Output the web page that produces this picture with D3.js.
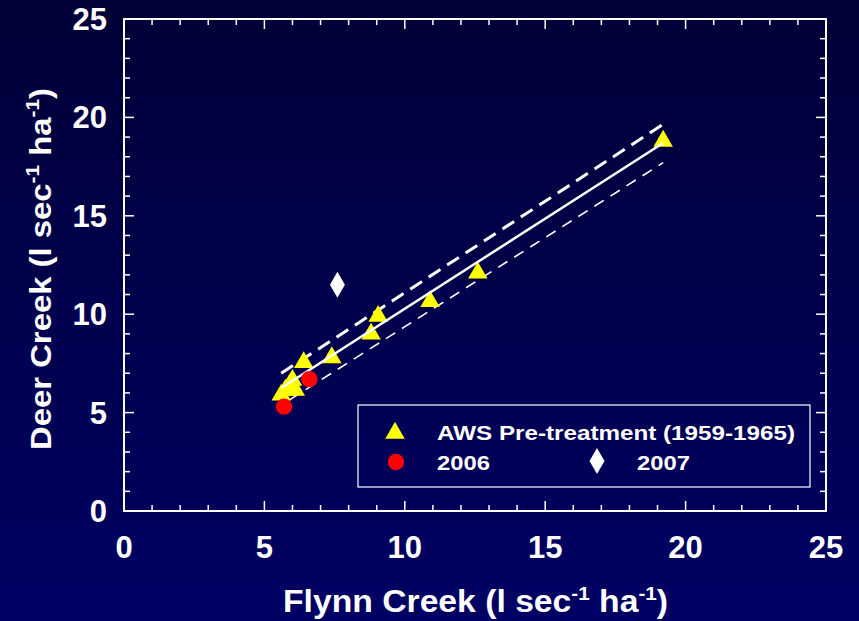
<!DOCTYPE html>
<html>
<head>
<meta charset="utf-8">
<script src="https://cdn.jsdelivr.net/npm/d3@7"></script>
<style>
  html, body { margin: 0; padding: 0; background: #000040; }
  svg { display: block; }
  text { font-family: 'Liberation Sans', Arial, sans-serif; font-weight: bold; fill: #fff; }
</style>
</head>
<body>
<div id="chart"></div>
<script>
// AWS pre-treatment pairs (Flynn Creek, Deer Creek)
const preX = [19.2, 12.6, 10.9, 9.05, 8.8, 7.4, 6.4, 6.0, 5.9, 5.75, 5.6, 6.1];
const preY = [18.9, 12.2, 10.75, 10.0, 9.1, 7.9, 7.65, 6.75, 6.5, 6.25, 6.0, 6.25];
const x2006 = [5.7, 6.6];
const y2006 = [5.3, 6.7];
const x2007 = [7.6];
const y2007 = [11.5];

// regression line and bands (start, end)
const fitX = [5.6, 19.2];
const fitY = [6.25, 18.7];
const upperY = [7.0, 19.65];
const lowerX = [5.9, 19.2];
const lowerY = [5.65, 17.7];

const xTicks = [0, 5, 10, 15, 20, 25];
const yTicks = [0, 5, 10, 15, 20, 25];
const legendLabels = ['AWS Pre-treatment (1959-1965)', '2006', '2007'];

const W = 859, H = 621;
const margin = { top: 19, right: 33, bottom: 110, left: 124 };
const width = W - margin.left - margin.right;
const height = H - margin.top - margin.bottom;

const svg = d3.select('#chart').append('svg').attr('width', W).attr('height', H);

const grad = svg.append('defs').append('linearGradient')
  .attr('id', 'bg').attr('x1', 0).attr('y1', 0).attr('x2', 0).attr('y2', 1);
grad.append('stop').attr('offset', '0%').attr('stop-color', '#000036');
grad.append('stop').attr('offset', '100%').attr('stop-color', '#000064');
svg.append('rect').attr('width', W).attr('height', H).attr('fill', 'url(#bg)');

const g = svg.append('g').attr('transform', 'translate(' + margin.left + ',' + margin.top + ')');

const x = d3.scaleLinear().domain([0, 25]).range([0, width]);
const y = d3.scaleLinear().domain([0, 25]).range([height, 0]);

const minor = d3.range(0, 26, 1);

// frame
g.append('rect').attr('width', width).attr('height', height)
  .attr('fill', 'none').attr('stroke', '#fff').attr('stroke-width', 2);

// inward ticks on all four sides
const tickLen = (v) => (v % 5 === 0 ? 10 : 6);
const tk = g.append('g').attr('stroke', '#fff').attr('stroke-width', 1.5);
minor.forEach((v) => {
  const L = tickLen(v);
  tk.append('line').attr('x1', x(v)).attr('x2', x(v)).attr('y1', height).attr('y2', height - L);
  tk.append('line').attr('x1', x(v)).attr('x2', x(v)).attr('y1', 0).attr('y2', L);
  tk.append('line').attr('y1', y(v)).attr('y2', y(v)).attr('x1', 0).attr('x2', L);
  tk.append('line').attr('y1', y(v)).attr('y2', y(v)).attr('x1', width).attr('x2', width - L);
});

g.selectAll('.xl').data(xTicks).enter().append('text')
  .attr('x', (d) => x(d)).attr('y', height + 47)
  .attr('text-anchor', 'middle').style('font-size', '31px').text((d) => d);

g.selectAll('.yl').data(yTicks).enter().append('text')
  .attr('x', -17).attr('y', (d) => y(d) + 11)
  .attr('text-anchor', 'end').style('font-size', '31px').text((d) => d);

// axis titles
const xt = svg.append('text').attr('x', 283).attr('y', 612)
  .attr('textLength', 385).attr('lengthAdjust', 'spacingAndGlyphs')
  .style('font-size', '31px');
xt.append('tspan').text('Flynn Creek (l sec');
xt.append('tspan').attr('dy', -12).style('font-size', '19px').text('-1');
xt.append('tspan').attr('dy', 12).text(' ha');
xt.append('tspan').attr('dy', -12).style('font-size', '19px').text('-1');
xt.append('tspan').attr('dy', 12).text(')');

const yt = svg.append('text').attr('transform', 'translate(51,450) rotate(-90)')
  .attr('textLength', 362).attr('lengthAdjust', 'spacingAndGlyphs')
  .style('font-size', '30px');
yt.append('tspan').text('Deer Creek (l sec');
yt.append('tspan').attr('dy', -12).style('font-size', '19px').text('-1');
yt.append('tspan').attr('dy', 12).text(' ha');
yt.append('tspan').attr('dy', -12).style('font-size', '19px').text('-1');
yt.append('tspan').attr('dy', 12).text(')');

// lines
const line = d3.line().x((d) => x(d[0])).y((d) => y(d[1]));
g.append('path').datum(d3.zip(fitX, upperY)).attr('d', line)
  .attr('stroke', '#fff').attr('stroke-width', 3).attr('fill', 'none').attr('stroke-dasharray', '14 8');
g.append('path').datum(d3.zip(lowerX, lowerY)).attr('d', line)
  .attr('stroke', '#fff').attr('stroke-width', 1.6).attr('fill', 'none').attr('stroke-dasharray', '11 8');

// markers
const tri = d3.symbol().type(d3.symbolTriangle).size(165);
const circ = d3.symbol().type(d3.symbolCircle).size(210);
const diamond = 'M0,-13L7.5,0L0,13L-7.5,0Z';

g.selectAll('.pre').data(d3.zip(preX, preY)).enter().append('path')
  .attr('d', tri).attr('fill', '#ffff00')
  .attr('transform', (d) => 'translate(' + x(d[0]) + ',' + (y(d[1]) + 2) + ')');

g.append('path').datum(d3.zip(fitX, fitY)).attr('d', line)
  .attr('stroke', '#fff').attr('stroke-width', 2.5).attr('fill', 'none');

g.selectAll('.p06').data(d3.zip(x2006, y2006)).enter().append('path')
  .attr('d', circ).attr('fill', '#ff0000')
  .attr('transform', (d) => 'translate(' + x(d[0]) + ',' + y(d[1]) + ')');

g.selectAll('.p07').data(d3.zip(x2007, y2007)).enter().append('path')
  .attr('d', diamond).attr('fill', '#fff')
  .attr('transform', (d) => 'translate(' + x(d[0]) + ',' + y(d[1]) + ')');

// legend
const lg = svg.append('g').attr('transform', 'translate(358,405)');
lg.append('rect').attr('width', 452).attr('height', 82)
  .attr('fill', 'none').attr('stroke', '#fff').attr('stroke-width', 1.2);
lg.append('path').attr('d', tri).attr('fill', '#ffff00').attr('transform', 'translate(37,28)');
lg.append('text').attr('x', 79).attr('y', 35).style('font-size', '21px')
  .attr('textLength', 358).attr('lengthAdjust', 'spacingAndGlyphs').text(legendLabels[0]);
lg.append('path').attr('d', circ).attr('fill', '#ff0000').attr('transform', 'translate(38,57)');
lg.append('text').attr('x', 79).attr('y', 65).style('font-size', '21px')
  .attr('textLength', 53).attr('lengthAdjust', 'spacingAndGlyphs').text(legendLabels[1]);
lg.append('path').attr('d', diamond).attr('fill', '#fff').attr('transform', 'translate(239,56)');
lg.append('text').attr('x', 279).attr('y', 65).style('font-size', '21px')
  .attr('textLength', 53).attr('lengthAdjust', 'spacingAndGlyphs').text(legendLabels[2]);
</script>
</body>
</html>
